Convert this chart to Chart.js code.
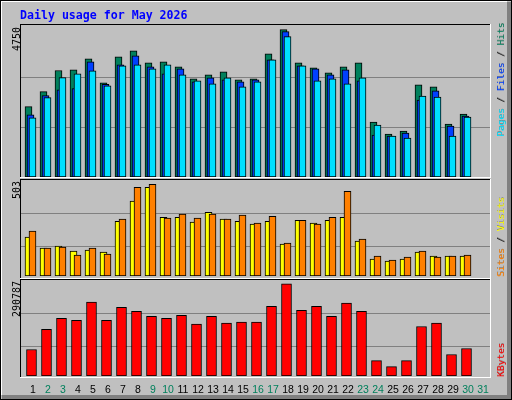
<!DOCTYPE html>
<html><head><meta charset="utf-8">
<script src="https://cdn.jsdelivr.net/npm/chart.js@4"></script>
<style>
html,body{margin:0;padding:0;background:#c0c0c0;}
#wrap{position:relative;width:512px;height:400px;overflow:hidden;}
canvas{position:absolute;}
</style></head><body>
<div id="wrap">
<canvas id="bg" width="512" height="400" style="left:0;top:0;width:512px;height:400px"></canvas>
<div id="c1" style="position:absolute;left:21px;top:25px;width:469px;height:152px"><canvas id="k1"></canvas></div>
<div id="c2" style="position:absolute;left:21px;top:180px;width:469px;height:96px"><canvas id="k2"></canvas></div>
<div id="c3" style="position:absolute;left:21px;top:280px;width:469px;height:120px"><canvas id="k3"></canvas></div>
</div>
<script>
const days = ["1","2","3","4","5","6","7","8","9","10","11","12","13","14","15","16","17","18","19","20","21","22","23","24","25","26","27","28","29","30","31"];
const weekend = [2,3,9,10,16,17,23,24,30,31];
const hits  = [2202,2674,3334,3356,3702,2947,3765,3953,3576,3607,3450,3072,3198,3293,3041,3072,3859,4614,3576,3419,3261,3450,3576,1719,1342,1436,2884,2821,1656,1971,null];
const files = [1950,2548,2727,2768,3607,2905,3513,3796,3450,3230,3387,2978,3104,3041,2978,3041,3670,4551,3481,3387,3198,3356,3010,1310,1279,1373,2411,2695,1593,1908,null];
const pages = [1856,2485,3114,3230,3325,2852,3481,3513,3387,3513,3198,3010,2915,3104,2821,2978,3670,4394,3481,3010,3072,2915,3104,1625,1279,1216,2537,2505,1279,1877,null];
const sites  = [204,146,157,131,136,125,287,392,465,308,308,282,334,298,287,272,287,167,292,277,292,308,183,89,78,89,125,104,104,104,null];
const visits = [235,146,151,110,146,115,298,465,480,303,324,303,324,298,319,277,313,172,292,272,308,444,193,104,84,99,131,99,104,110,null];
const kbytes = [80300,141000,175000,169000,224000,169000,208000,196000,181000,175000,184000,157000,181000,160000,163000,163000,211000,279000,199000,211000,181000,221000,196000,46800,28500,46800,150000,160000,65000,83400,null];
const topLabels = ["4750","503","290787"];

const bg = document.getElementById('bg').getContext('2d');
bg.fillStyle='#c0c0c0';bg.fillRect(0,0,512,400);
bg.fillStyle='#000';bg.fillRect(0,0,512,1);bg.fillRect(0,0,1,400);bg.fillRect(511,0,1,400);bg.fillRect(0,399,512,1);
bg.fillStyle='#fff';bg.fillRect(1,1,506,1);bg.fillRect(1,1,1,394);
bg.fillStyle='#808080';bg.fillRect(507,2,4,397);bg.fillRect(2,395,509,4);
function panel(y0,y1){bg.fillStyle='#000';bg.fillRect(20,y0,470,1);bg.fillRect(20,y0,1,y1-y0);
  bg.fillStyle='#fff';bg.fillRect(20,y1,471,1);bg.fillRect(490,y0,1,y1-y0+1);}
panel(24,177);panel(179,278);panel(279,377);
bg.font='bold 11.6px "DejaVu Sans Mono"';bg.fillStyle='#0000ff';bg.textBaseline='alphabetic';
bg.fillText('Daily usage for May 2026',20,19);
function vtext(parts,x,y,font,shadow){bg.save();bg.translate(x,y);bg.rotate(-Math.PI/2);bg.font=font;let cx=0;
  for(const [t,c] of parts){ if(shadow){bg.fillStyle='#808080';bg.fillText(t,cx+0.7,0.7);} bg.fillStyle=c;bg.fillText(t,cx,0);cx+=bg.measureText(t).width;}
  bg.restore();}
const lf='10px "DejaVu Sans Mono"';
vtext([[topLabels[0],'#000']],19.5,51,lf,false);
vtext([[topLabels[1],'#000']],19.5,199,lf,false);
vtext([[topLabels[2],'#000']],19.5,317,lf,false);
const rf='9.5px "DejaVu Sans Mono"';
vtext([['Pages','#00e0ff'],[' / ','#202020'],['Files','#0040ff'],[' / ','#202020'],['Hits','#00805c']],503.5,137,rf,true);
vtext([['Sites','#ff8000'],[' / ','#202020'],['Visits','#ffff00']],503.5,277,rf,true);
vtext([['KBytes','#ff0000']],503.5,377,rf,true);

const helper = {
  id:'helper',
  beforeDatasetsDraw(chart,a,o){const c=chart.ctx,ys=chart.scales.y;c.save();c.fillStyle='#808080';
    for(const v of o.grid){const y=Math.round(ys.getPixelForValue(v));c.fillRect(0,y,chart.width,1);}c.restore();},
  beforeDatasetDraw(chart,a,o){chart.ctx.save();chart.ctx.translate(o.offsets[a.index],0);},
  afterDatasetDraw(chart,a,o){chart.ctx.restore();},
  afterDraw(chart,a,o){ if(!o.labels) return; const c=chart.ctx,xs=chart.scales.x;c.save();
    c.font='10.5px "Liberation Sans"';c.textAlign='center';c.textBaseline='alphabetic';
    days.forEach((d,i)=>{c.fillStyle=weekend.includes(+d)?'#00805c':'#000';c.fillText(d,xs.getPixelForValue(i)+4.5,113);});
    c.restore();}
};
function mk(id,sets,max,grid,offsets,labels,padBottom){
  const n=sets.length;
  return new Chart(document.getElementById(id),{type:'bar',
    data:{labels:days,datasets:sets.map((s,i)=>({data:s.d,backgroundColor:s.c,borderColor:'#000',borderWidth:1,borderSkipped:false,barThickness:s.w,grouped:false,order:n-1-i}))},
    options:{responsive:true,maintainAspectRatio:false,animation:false,
      layout:{padding:{left:0,right:4,top:0,bottom:padBottom}},
      plugins:{legend:{display:false},tooltip:{enabled:false},helper:{grid,offsets,labels}},
      scales:{x:{display:false,offset:true},y:{display:false,min:0,max:max}}},
    plugins:[helper]});
}
mk('k1',[{d:hits,c:'#00805c',w:7},{d:files,c:'#0040ff',w:7},{d:pages,c:'#00e0ff',w:7}],4760,[3146,1563],[0,2,4],false,0);
mk('k2',[{d:sites,c:'#ffff00',w:7},{d:visits,c:'#ff8000',w:7}],503,[329,157],[0,4],false,0);
mk('k3',[{d:kbytes,c:'#ff0000',w:10}],290787,[190000,89500],[3],true,24);
</script>
</body></html>
